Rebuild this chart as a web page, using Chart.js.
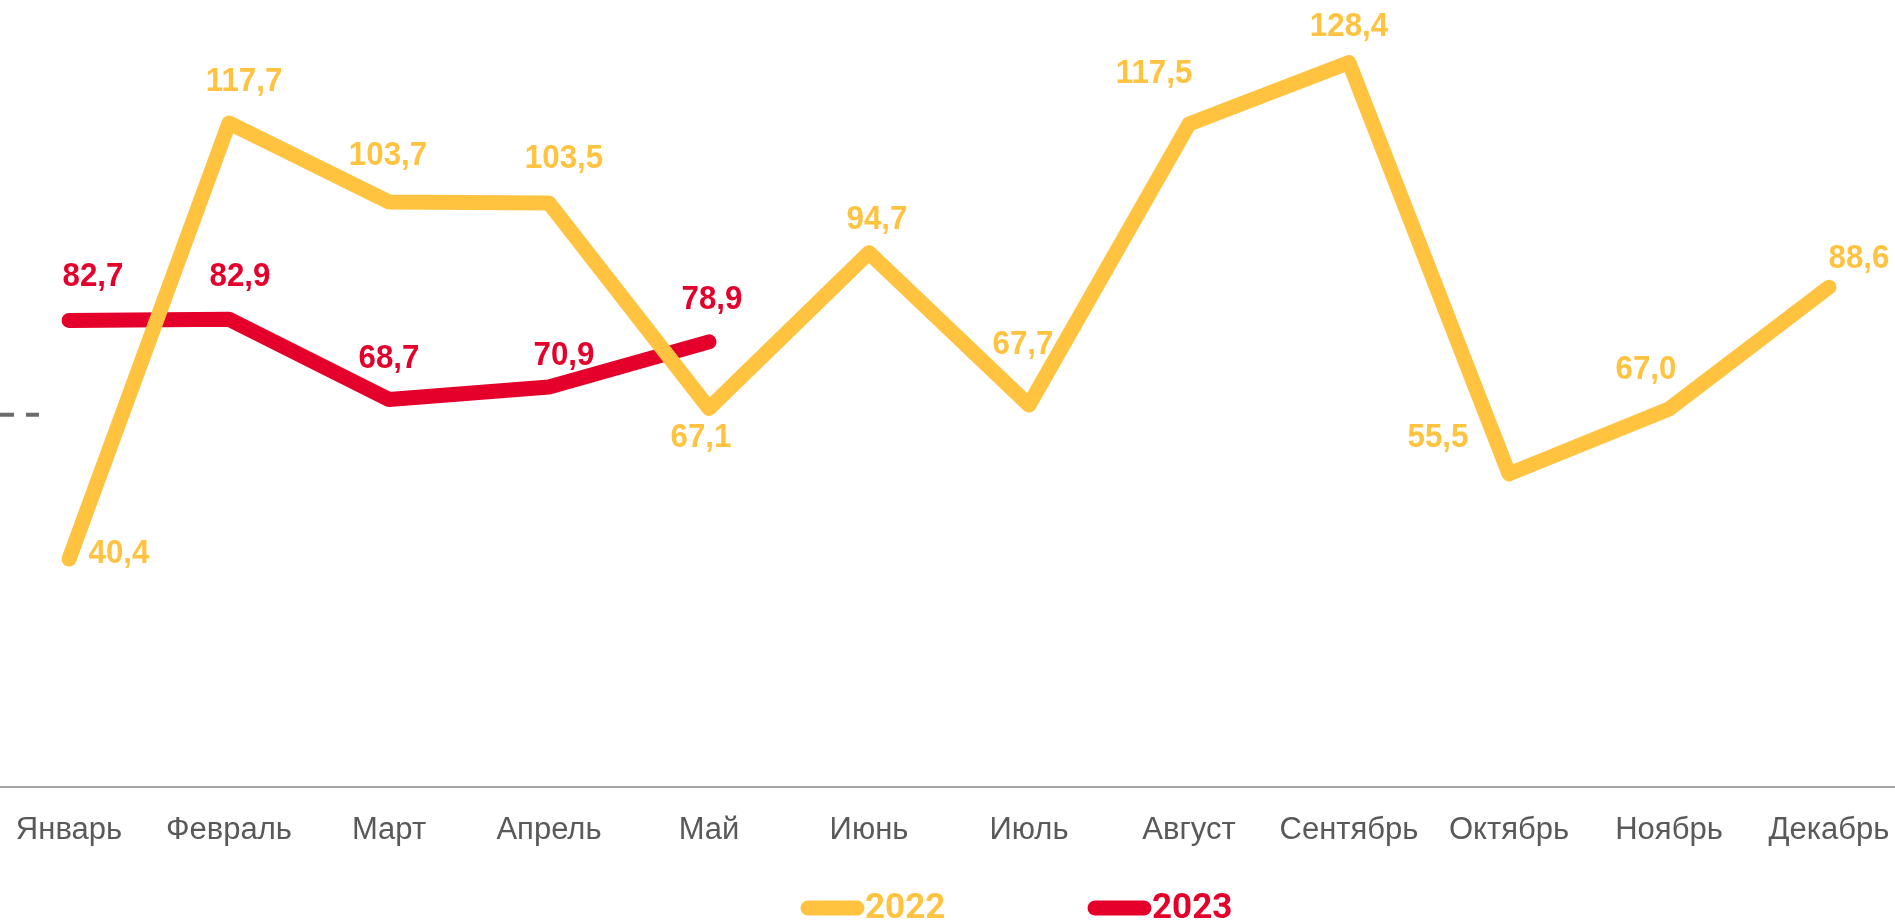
<!DOCTYPE html>
<html>
<head>
<meta charset="utf-8">
<script src="https://cdn.jsdelivr.net/npm/chart.js@4.4.0/dist/chart.umd.min.js"></script>
<style>
  html, body { margin: 0; padding: 0; background: #fff; }
  #wrap { width: 1895px; height: 923px; }
</style>
</head>
<body>
<div id="wrap"><canvas id="chart1" width="1895" height="923"></canvas></div>
<script>
// data
var months = ['Январь', 'Февраль', 'Март', 'Апрель', 'Май', 'Июнь', 'Июль', 'Август', 'Сентябрь', 'Октябрь', 'Ноябрь', 'Декабрь'];
var values2022 = [40.4, 117.7, 103.7, 103.5, 67.1, 94.7, 67.7, 117.5, 128.4, 55.5, 67.0, 88.6];
var values2023 = [82.7, 82.9, 68.7, 70.9, 78.9];
var refLevel = 66;

// label offsets in px (dx, dy from the point)
var offsets2022 = [[50, -5], [15, -41], [-1, -46], [15, -44], [-8, 29], [8, -33], [-6, -60], [-35, -50], [0, -36], [-71, -36], [-23, -39], [30, -29]];
var offsets2023 = [[24, -44], [11, -43], [0, -41], [15, -31], [3, -42]];

var YELLOW = '#FFC340';
var RED = '#E4002B';

function fmt(v) {
    return v.toFixed(1).replace('.', ',');
}

var extras = {
    id: 'extras',
    beforeDatasetsDraw: function (chart) {
        var ctx = chart.ctx;
        var y = chart.scales.y;
        var y0 = Math.round(y.getPixelForValue(0));
        ctx.save();
        ctx.strokeStyle = '#A6A6A6';
        ctx.lineWidth = 2;
        ctx.beginPath();
        ctx.moveTo(0, y0);
        ctx.lineTo(chart.width, y0);
        ctx.stroke();

        // small dashed stub on the left
        var yr = y.getPixelForValue(refLevel);
        ctx.strokeStyle = '#6B6B6B';
        ctx.lineWidth = 4;
        ctx.setLineDash([14, 12]);
        ctx.beginPath();
        ctx.moveTo(0, yr);
        ctx.lineTo(39, yr);
        ctx.stroke();
        ctx.restore();
    },
    afterDatasetsDraw: function (chart) {
        var ctx = chart.ctx;
        var offs = [offsets2022, offsets2023];
        ctx.save();
        ctx.font = 'bold 34px "Liberation Sans", Arial, sans-serif';
        ctx.textAlign = 'center';
        ctx.textBaseline = 'middle';
        chart.data.datasets.forEach(function (ds, di) {
            var meta = chart.getDatasetMeta(di);
            ctx.fillStyle = ds.borderColor;
            meta.data.forEach(function (pt, i) {
                var o = offs[di][i];
                ctx.save();
                ctx.translate(pt.x + o[0], pt.y + o[1]);
                ctx.scale(0.92, 1);
                ctx.fillText(fmt(ds.data[i]), 0, 0);
                ctx.restore();
            });
        });

        // legend
        var lx = 801, ly = 908;
        ctx.font = 'bold 35px Roboto, "Liberation Sans", sans-serif';
        ctx.textAlign = 'left';
        ctx.lineCap = 'round';
        ctx.lineWidth = 15;
        chart.data.datasets.forEach(function (ds, di) {
            ctx.strokeStyle = ds.borderColor;
            ctx.beginPath();
            ctx.moveTo(lx + 7, ly);
            ctx.lineTo(lx + 56, ly);
            ctx.stroke();
            ctx.fillStyle = ds.borderColor;
            ctx.fillText(ds.label, lx + 64, ly + 1);
            lx += 287;
        });
        ctx.restore();
    }
};

var ctx1 = document.getElementById('chart1').getContext('2d');
var chart1 = new Chart(ctx1, {
    type: 'line',
    data: {
        labels: months,
        datasets: [{
            label: '2022',
            data: values2022,
            borderColor: YELLOW,
            backgroundColor: YELLOW,
            borderWidth: 15,
            borderJoinStyle: 'round',
            borderCapStyle: 'round',
            pointRadius: 0,
            tension: 0,
            fill: false
        }, {
            label: '2023',
            data: values2023,
            borderColor: RED,
            backgroundColor: RED,
            borderWidth: 15,
            borderJoinStyle: 'round',
            borderCapStyle: 'round',
            pointRadius: 0,
            tension: 0,
            fill: false
        }]
    },
    options: {
        responsive: false,
        animation: false,
        layout: { padding: { left: 69, right: 66, top: 0, bottom: 0 } },
        plugins: {
            legend: { display: false },
            tooltip: { enabled: false }
        },
        scales: {
            x: {
                offset: false,
                // invisible tick marks just push the labels down
                grid: { display: true, drawOnChartArea: false, drawTicks: true, tickLength: 25, color: 'rgba(0,0,0,0)' },
                border: { display: false },
                ticks: {
                    color: '#595959',
                    font: { family: '"Liberation Sans", Arial, sans-serif', size: 31 },
                    padding: 0,
                    maxRotation: 0,
                    autoSkip: false
                },
                afterFit: function (s) { s.height = 136; }
            },
            y: {
                display: false,
                min: 0,
                max: 139.5
            }
        }
    },
    plugins: [extras]
});
</script>
</body>
</html>
